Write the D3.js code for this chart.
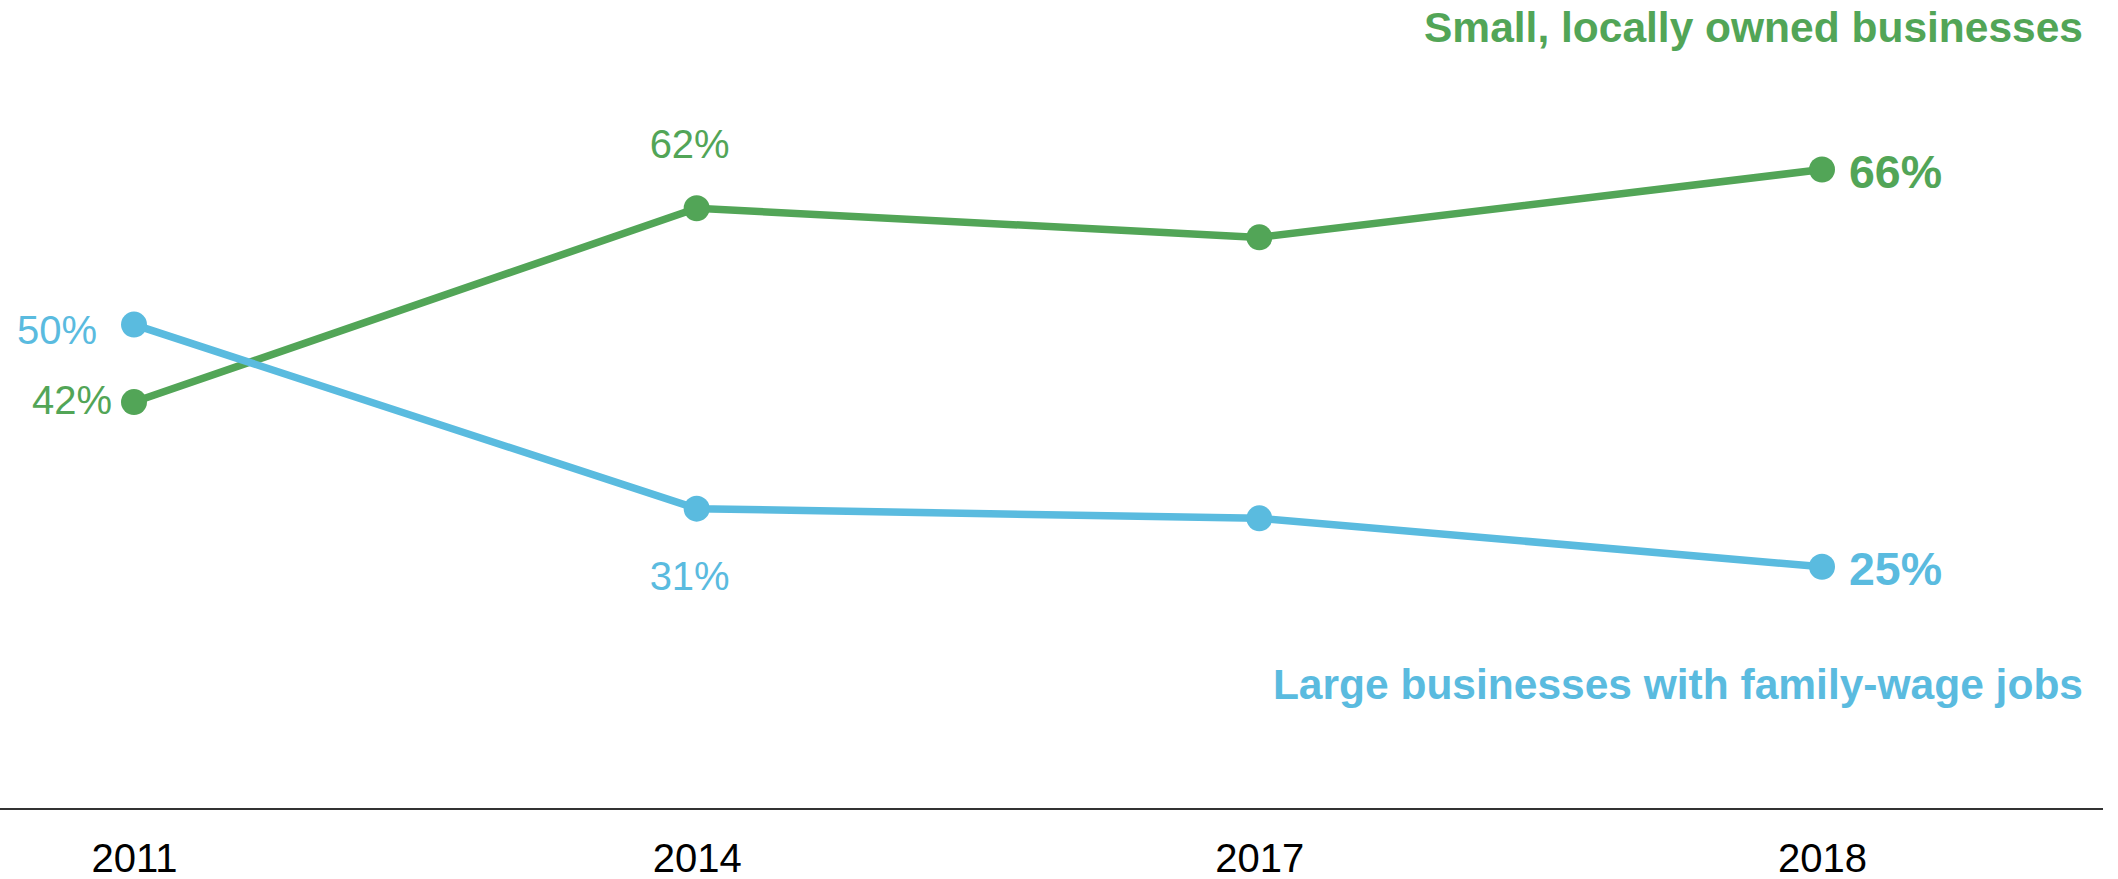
<!DOCTYPE html>
<html>
<head>
<meta charset="utf-8">
<script src="https://cdn.jsdelivr.net/npm/d3@7"></script>
<style>
  html, body { margin: 0; padding: 0; background: #fff; }
  svg { display: block; font-family: Arial, "Liberation Sans", sans-serif; }
</style>
</head>
<body>
<svg id="chart" width="2118" height="879"></svg>
<script>
const years = ["2011", "2014", "2017", "2018"];
const smallValues = [42, 62, 59, 66];
const largeValues = [50, 31, 30, 25];
const seriesNames = ["Small, locally owned businesses", "Large businesses with family-wage jobs"];

const green = "#52a557";
const blue = "#5abbdf";

const svg = d3.select("#chart"),
  width = +svg.attr("width"),
  height = +svg.attr("height");

const x = d3.scalePoint().domain(years).range([134, 1822]);
const y = d3.scaleLinear().domain([0, 83.5]).range([809, 0]);

const series = [
  { name: seriesNames[0], values: smallValues, color: green },
  { name: seriesNames[1], values: largeValues, color: blue }
];

// baseline
svg.append("line")
  .attr("x1", 0).attr("x2", width - 15)
  .attr("y1", y(0)).attr("y2", y(0))
  .attr("stroke", "#333").attr("stroke-width", 2);

// x axis labels
const xAxis = svg.append("g")
  .attr("transform", "translate(0," + y(0) + ")")
  .call(d3.axisBottom(x).tickSize(0).tickPadding(35));
xAxis.select(".domain").remove();
xAxis.selectAll("text")
  .attr("font-size", "40px")
  .attr("font-family", "Arial, 'Liberation Sans', sans-serif")
  .attr("fill", "#000");

const line = d3.line()
  .x((d, i) => x(years[i]))
  .y(d => y(d));

series.forEach(s => {
  svg.append("path")
    .attr("d", line(s.values))
    .attr("fill", "none")
    .attr("stroke", s.color)
    .attr("stroke-width", 7.5);

  svg.selectAll(null)
    .data(s.values)
    .enter().append("circle")
    .attr("cx", (d, i) => x(years[i]))
    .attr("cy", d => y(d))
    .attr("r", 13)
    .attr("fill", s.color);
});

// value labels: which point, and where the text sits relative to it
const labels = [
  { s: 0, i: 0, anchor: "end", dx: -22, dy: 12, bold: false },
  { s: 1, i: 0, anchor: "end", dx: -37, dy: 19, bold: false },
  { s: 0, i: 1, anchor: "middle", dx: -7, dy: -50, bold: false },
  { s: 1, i: 1, anchor: "middle", dx: -7, dy: 81, bold: false },
  { s: 0, i: 3, anchor: "start", dx: 27, dy: 18, bold: true },
  { s: 1, i: 3, anchor: "start", dx: 27, dy: 18, bold: true }
];

svg.selectAll(".vlabel")
  .data(labels)
  .enter().append("text")
  .attr("class", "vlabel")
  .attr("x", d => x(years[d.i]) + d.dx)
  .attr("y", d => y(series[d.s].values[d.i]) + d.dy)
  .attr("text-anchor", d => d.anchor)
  .attr("font-size", d => d.bold ? "46.5px" : "40px")
  .attr("font-weight", d => d.bold ? "bold" : "normal")
  .attr("fill", d => series[d.s].color)
  .text(d => series[d.s].values[d.i] + "%");

// series names
svg.append("text")
  .attr("x", 2083).attr("y", 42)
  .attr("text-anchor", "end")
  .attr("font-size", "42.5px")
  .attr("font-weight", "bold")
  .attr("fill", green)
  .text(series[0].name);

svg.append("text")
  .attr("x", 2083).attr("y", 699)
  .attr("text-anchor", "end")
  .attr("font-size", "42.5px")
  .attr("font-weight", "bold")
  .attr("fill", blue)
  .text(series[1].name);
</script>
</body>
</html>
